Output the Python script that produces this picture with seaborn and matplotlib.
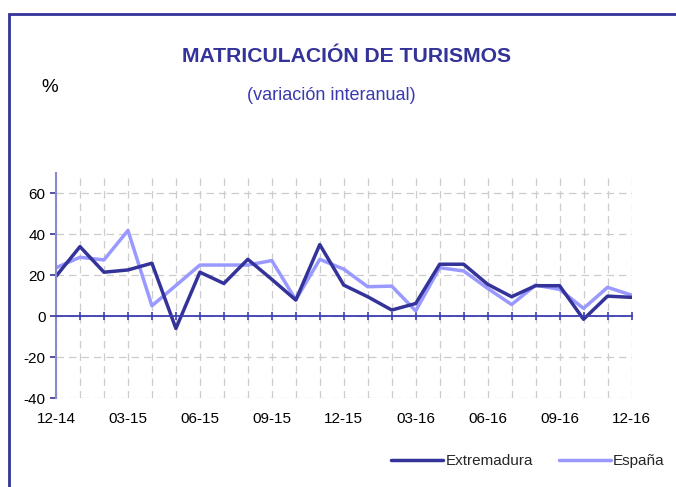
import matplotlib
matplotlib.use("Agg")
import matplotlib.pyplot as plt
import numpy as np
import pandas as pd
import seaborn as sns
from matplotlib.patches import Rectangle
from matplotlib.lines import Line2D

# ---- data ----
months = ["12-14", "01-15", "02-15", "03-15", "04-15", "05-15", "06-15", "07-15",
          "08-15", "09-15", "10-15", "11-15", "12-15", "01-16", "02-16", "03-16",
          "04-16", "05-16", "06-16", "07-16", "08-16", "09-16", "10-16", "11-16",
          "12-16"]
extremadura = [19.5, 34.0, 21.5, 22.6, 25.9, -6.0, 21.5, 16.0, 27.8, 18.0, 7.9, 35.0,
               15.2, 9.5, 3.0, 6.2, 25.4, 25.4, 15.6, 9.5, 14.9, 14.9, -1.5, 9.8, 9.2]
espana = [23.7, 28.8, 27.5, 41.9, 5.1, 15.0, 25.0, 25.0, 25.0, 27.2, 8.0, 27.8,
          23.0, 14.4, 14.7, 2.6, 23.7, 22.1, 13.6, 5.7, 15.2, 13.1, 3.8, 14.1, 10.3]
series_names = ["Extremadura", "España"]
y_ticks = [-40, -20, 0, 20, 40, 60]
title = "MATRICULACIÓN DE TURISMOS"
subtitle = "(variación interanual)"

df = pd.DataFrame({
    "idx": list(range(len(months))) * 2,
    "value": extremadura + espana,
    "region": ["Extremadura"] * len(months) + ["España"] * len(months),
})

# ---- style ----
sns.set_theme(style="white")
plt.rcParams["font.family"] = ["Liberation Sans", "DejaVu Sans"]

dark = "#333399"
light = "#9999ff"

fig = plt.figure(figsize=(6.76, 4.87), dpi=100)
ax = fig.add_axes([56 / 676, 89 / 487, (631.5 - 56) / 676, 225 / 487])

sns.lineplot(data=df[df.region == "España"], x="idx", y="value", color=light,
             lw=2.5, ax=ax, legend=False)
sns.lineplot(data=df[df.region == "Extremadura"], x="idx", y="value", color=dark,
             lw=2.5, ax=ax, legend=False)

ax.set_xlim(0, len(months) - 1)
ax.set_ylim(-40, 70)
ax.set_yticks(y_ticks)
ax.set_yticklabels([str(v) for v in y_ticks])
ax.set_xticks(range(len(months)))
ax.set_xticklabels([m if i % 3 == 0 else "" for i, m in enumerate(months)])
ax.set_xlabel("")
ax.set_ylabel("")

ax.set_axisbelow(True)
ax.grid(True, color="#cccccc", linestyle=(0, (6, 4)), lw=0.9)

for s in ["top", "right"]:
    ax.spines[s].set_visible(False)
ax.spines["bottom"].set_position(("data", 0))
ax.spines["bottom"].set_color("#3c3cb0")
ax.spines["bottom"].set_linewidth(1.3)
ax.spines["left"].set_color("#8a8ad0")
ax.spines["left"].set_linewidth(1.5)

ax.tick_params(axis="y", direction="out", length=4.5, width=1.2, color=dark,
               labelsize=11, pad=3, labelcolor="black", left=True)
ax.tick_params(axis="x", direction="inout", length=6, width=1.2, color="#3c3cb0",
               labelsize=11, pad=66, labelcolor="black", bottom=True)

# ---- texts ----
fig.text(347 / 676, 1 - 57 / 487, title, ha="center", va="center",
         fontsize=15.2, fontweight="bold", color=dark)
fig.text(331 / 676, 1 - 96 / 487, subtitle, ha="center", va="center",
         fontsize=13, color="#3a3ab0")
fig.text(50 / 676, 1 - 88 / 487, "%", ha="center", va="center",
         fontsize=13.5, color="black")

handles = [Line2D([], [], color=dark, lw=2.5), Line2D([], [], color=light, lw=2.5)]
fig.legend(handles, series_names, loc="center", bbox_to_anchor=(528 / 676, 1 - 461 / 487),
           ncol=2, frameon=False, handlelength=3.4, handletextpad=0.15,
           columnspacing=1.7, fontsize=11)

# ---- frame ----
fig.add_artist(Rectangle((9 / 676, -0.5), 2.0, 0.5 + (1 - 14 / 487),
                         transform=fig.transFigure, fill=False,
                         edgecolor=dark, lw=2, clip_on=False))

fig.savefig("out.png", dpi=100)
